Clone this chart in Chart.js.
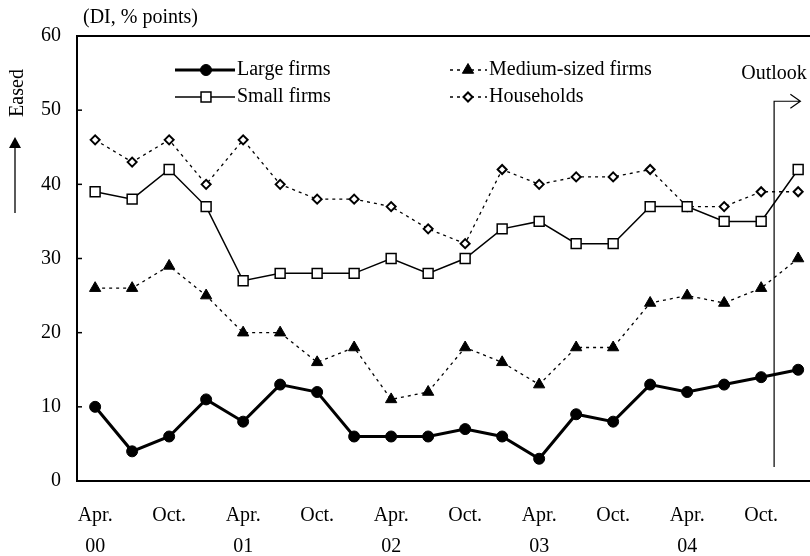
<!DOCTYPE html>
<html>
<head>
<meta charset="utf-8">
<script src="https://cdn.jsdelivr.net/npm/chart.js"></script>
<style>
  html,body{margin:0;padding:0;background:#fff;}
  canvas{display:block;}
</style>
</head>
<body>
<canvas id="chart" width="810" height="556"></canvas>
<script>
/* ------------------------------------------------------------------ */
/* Data (DI, % points), Apr. 00 -> Jan. 05 (last = outlook)            */
/* ------------------------------------------------------------------ */
const quarters = ['Apr.00','Jul.00','Oct.00','Jan.01','Apr.01','Jul.01','Oct.01','Jan.02',
                  'Apr.02','Jul.02','Oct.02','Jan.03','Apr.03','Jul.03','Oct.03','Jan.04',
                  'Apr.04','Jul.04','Oct.04','Jan.05'];
const largeFirms  = [10,4,6,11,8,13,12,6,6,6,7,6,3,9,8,13,12,13,14,15];
const mediumFirms = [26,26,29,25,20,20,16,18,11,12,18,16,13,18,18,24,25,24,26,30];
const smallFirms  = [39,38,42,37,27,28,28,28,30,28,30,34,35,32,32,37,37,35,35,42];
const households  = [46,43,46,40,46,40,38,38,37,34,32,42,40,41,41,42,37,37,39,39];

const xTickPos    = [0,2,4,6,8,10,12,14,16,18];
const xTickLabels = [['Apr.','00'],'Oct.',['Apr.','01'],'Oct.',['Apr.','02'],'Oct.',
                     ['Apr.','03'],'Oct.',['Apr.','04'],'Oct.'];
const yTicks      = [0,10,20,30,40,50,60];

const FONT = '"Liberation Serif","Times New Roman",serif';
const FS = 20;
const pts = arr => arr.map((v,i)=>({x:i,y:v}));

/* ------------------------------------------------------------------ */
/* Decorations: top border, inner ticks, legend, notes, outlook arrow */
/* ------------------------------------------------------------------ */
const deco = {
  id:'deco',
  afterDraw(chart){
    const {ctx, chartArea:a, scales:{x,y}} = chart;
    const dp = Chart.helpers.drawPoint;
    ctx.save();
    ctx.strokeStyle='#000'; ctx.fillStyle='#000';

    // top frame line
    ctx.lineWidth=2;
    ctx.beginPath(); ctx.moveTo(a.left-1,a.top); ctx.lineTo(a.right,a.top); ctx.stroke();

    // inner y tick marks
    ctx.lineWidth=1.5;
    yTicks.forEach(v=>{
      const py=y.getPixelForValue(v);
      ctx.beginPath(); ctx.moveTo(a.left,py); ctx.lineTo(a.left+5,py); ctx.stroke();
    });

    // legend (2 x 2)
    ctx.font=FS+'px '+FONT; ctx.textBaseline='middle'; ctx.textAlign='left';
    const items=[
      {ds:0,x1:175,x2:235,mx:206,tx:237,ty:70},
      {ds:2,x1:175,x2:235,mx:206,tx:237,ty:97},
      {ds:1,x1:450,x2:487,mx:468,tx:489,ty:70},
      {ds:3,x1:450,x2:487,mx:468,tx:489,ty:97}
    ];
    items.forEach(it=>{
      const d=chart.data.datasets[it.ds];
      ctx.save();
      ctx.lineWidth=d.borderWidth; ctx.setLineDash(d.borderDash||[]);
      ctx.beginPath(); ctx.moveTo(it.x1,it.ty); ctx.lineTo(it.x2,it.ty); ctx.stroke();
      ctx.restore();
      ctx.save();
      ctx.fillStyle=d.pointBackgroundColor; ctx.strokeStyle='#000';
      ctx.lineWidth=d.pointBorderWidth;
      dp(ctx,{pointStyle:d.pointStyle,radius:d.pointRadius,borderWidth:d.pointBorderWidth,rotation:0},it.mx,it.ty);
      ctx.restore();
      ctx.fillStyle='#000';
      ctx.fillText(d.label,it.tx,it.ty);
    });

    // unit note
    ctx.fillText('(DI, % points)',83,18);

    // "Eased" with arrow
    ctx.save();
    ctx.translate(18,93); ctx.rotate(-Math.PI/2);
    ctx.textAlign='center'; ctx.fillText('Eased',0,0);
    ctx.restore();
    ctx.lineWidth=1.3;
    ctx.beginPath(); ctx.moveTo(15,213); ctx.lineTo(15,146); ctx.stroke();
    ctx.beginPath(); ctx.moveTo(15,137); ctx.lineTo(9,148); ctx.lineTo(21,148); ctx.closePath(); ctx.fill();

    // outlook arrow
    const ox=x.getPixelForValue(18.35), oy=y.getPixelForValue(51.2);
    const ex=x.getPixelForValue(19.06);
    ctx.lineWidth=1.2;
    ctx.beginPath();
    ctx.moveTo(ox,y.getPixelForValue(1.9)); ctx.lineTo(ox,oy); ctx.lineTo(ex,oy);
    ctx.moveTo(ex-10,oy-7); ctx.lineTo(ex,oy); ctx.lineTo(ex-10,oy+7);
    ctx.stroke();
    ctx.textAlign='center';
    ctx.fillText('Outlook',774,74);

    ctx.restore();
  }
};

/* ------------------------------------------------------------------ */
/* Chart                                                              */
/* ------------------------------------------------------------------ */
new Chart(document.getElementById('chart'),{
  type:'line',
  data:{
    datasets:[
      { label:'Large firms', data:pts(largeFirms), borderColor:'#000', borderWidth:3,
        pointStyle:'circle', pointRadius:5.5, pointBackgroundColor:'#000',
        pointBorderColor:'#000', pointBorderWidth:1 },
      { label:'Medium-sized firms', data:pts(mediumFirms), borderColor:'#000', borderWidth:1.3,
        borderDash:[3,4], pointStyle:'triangle', pointRadius:6.5, pointBackgroundColor:'#000',
        pointBorderColor:'#000', pointBorderWidth:1 },
      { label:'Small firms', data:pts(smallFirms), borderColor:'#000', borderWidth:1.5,
        pointStyle:'rect', pointRadius:7, pointBackgroundColor:'#fff',
        pointBorderColor:'#000', pointBorderWidth:1.5 },
      { label:'Households', data:pts(households), borderColor:'#000', borderWidth:1.3,
        borderDash:[3,4], pointStyle:'rectRot', pointRadius:4.5, pointBackgroundColor:'#fff',
        pointBorderColor:'#000', pointBorderWidth:2 }
    ]
  },
  options:{
    responsive:false, animation:false, devicePixelRatio:1,
    layout:{ autoPadding:false, padding:{top:36,right:0,left:0,bottom:0} },
    plugins:{ legend:{display:false}, tooltip:{enabled:false} },
    elements:{ line:{tension:0} },
    scales:{
      x:{
        type:'linear', min:-0.49, max:19.32,
        grid:{display:false, drawTicks:false},
        border:{display:true, width:2, color:'#000'},
        afterBuildTicks:s=>{ s.ticks = xTickPos.map(v=>({value:v})); },
        afterFit:s=>{ s.height = 75; s.paddingLeft = 0; s.paddingRight = 0; },
        ticks:{ autoSkip:false, maxRotation:0, padding:19, color:'#000',
                font:{family:FONT,size:FS,lineHeight:1.55},
                callback:(v,i)=>xTickLabels[i] }
      },
      y:{
        min:0, max:60,
        grid:{display:false, drawTicks:false},
        border:{display:true, width:2, color:'#000'},
        afterFit:s=>{ s.width = 77; s.paddingTop = 0; s.paddingBottom = 0; },
        ticks:{ stepSize:10, padding:16, color:'#000', font:{family:FONT,size:FS} }
      }
    }
  },
  plugins:[deco]
});
</script>
</body>
</html>
